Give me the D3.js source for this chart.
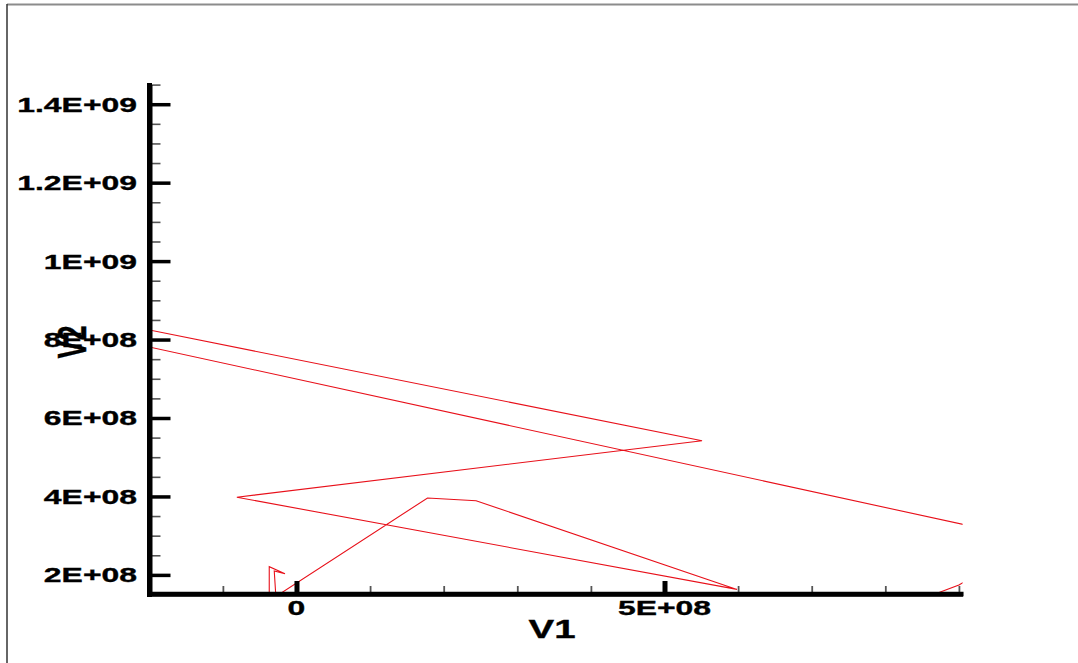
<!DOCTYPE html>
<html>
<head>
<meta charset="utf-8">
<script src="https://cdn.jsdelivr.net/npm/d3@7"></script>
<style>
    html, body { margin: 0; padding: 0; background: #fff; }
    svg { display: block; }
    text { font-family: "Liberation Sans", Arial, sans-serif; font-weight: bold; fill: #000; stroke: #000; stroke-width: 0.35px; }
</style>
</head>
<body>
<svg id="chart"></svg>
<script>
"use strict";

// series (points outside the frame get clipped)
const v1 = [8.23e8, 9.0e8, 1.0e9, -3.0e8, -3.0e8, 5.51e8, -0.81e8, 5.985e8, 2.44e8, 1.78e8, -0.28e8, -0.302e8, -0.156e8, -0.37e8, -0.37e8];
const v2 = [1.2e8, 1.74e8, 2.9e8, 8.22e8, 8.62e8, 5.42e8, 3.98e8, 1.63e8, 3.89e8, 3.96e8, 1.45e8, 2.10e8, 2.03e8, 2.21e8, 1.3e8];

const xMajor = [0, 5e8];
const xMajorLabels = ["0", "5E+08"];
const yMajor = [2e8, 4e8, 6e8, 8e8, 1e9, 1.2e9, 1.4e9];
const yMajorLabels = ["2E+08", "4E+08", "6E+08", "8E+08", "1E+09", "1.2E+09", "1.4E+09"];

const width = 1078;
const height = 663;
const stretch = 1.52;   // text in the picture is stretched sideways

const x = d3.scaleLinear().domain([-2.02e8, 9.05e8]).range([147.8, 962.6]);
const y = d3.scaleLinear().domain([1.5e8, 1.45e9]).range([594.5, 84.6]);

const svg = d3.select("#chart")
    .attr("width", width)
    .attr("height", height);

// outer frame (only top and left edges show)
svg.append("line")
    .attr("x1", 7).attr("x2", width).attr("y1", 4.5).attr("y2", 4.5)
    .attr("stroke", "#8c8c8c").attr("stroke-width", 2);
svg.append("line")
    .attr("x1", 7).attr("x2", 7).attr("y1", 4).attr("y2", height)
    .attr("stroke", "#333").attr("stroke-width", 1.5);

svg.append("clipPath").attr("id", "plotClip")
    .append("rect")
    .attr("x", x.range()[0]).attr("y", y.range()[1])
    .attr("width", x.range()[1] - x.range()[0])
    .attr("height", y.range()[0] - y.range()[1]);

const points = v1.map((d, i) => [d, v2[i]]);
const line = d3.line().x(d => x(d[0])).y(d => y(d[1]));

svg.append("path")
    .datum(points)
    .attr("clip-path", "url(#plotClip)")
    .attr("fill", "none")
    .attr("stroke", "#e8101a")
    .attr("stroke-width", 1.1)
    .attr("d", line);

// minor ticks
const yMinor = d3.range(1.5e8, 1.46e9, 5e7).filter(v => Math.round(v / 1e7) % 20 !== 0);
const xMinor = d3.range(-2e8, 9.1e8, 1e8).filter(v => v !== 0 && v !== 5e8);

svg.append("g")
    .attr("transform", "translate(149.5,0)")
    .call(d3.axisLeft(y).tickValues(yMinor).tickSize(-11).tickSizeOuter(0).tickFormat(""))
    .call(g => g.select(".domain").remove())
    .call(g => g.selectAll(".tick line").attr("stroke", "#555").attr("stroke-width", 1.6));

svg.append("g")
    .attr("transform", "translate(0,594)")
    .call(d3.axisBottom(x).tickValues(xMinor).tickSize(-8).tickSizeOuter(0).tickFormat(""))
    .call(g => g.select(".domain").remove())
    .call(g => g.selectAll(".tick line").attr("stroke", "#555").attr("stroke-width", 1.8));

// major ticks and axis lines
svg.append("g")
    .attr("transform", "translate(149.5,0)")
    .call(d3.axisLeft(y).tickValues(yMajor).tickSize(-21).tickSizeOuter(0).tickFormat(""))
    .call(g => g.select(".domain").attr("stroke", "#000").attr("stroke-width", 5))
    .call(g => g.selectAll(".tick line").attr("stroke", "#000").attr("stroke-width", 3.5));

svg.append("g")
    .attr("transform", "translate(0,594)")
    .call(d3.axisBottom(x).tickValues(xMajor).tickSize(-13).tickSizeOuter(0).tickFormat(""))
    .call(g => g.select(".domain").attr("stroke", "#000").attr("stroke-width", 4.5))
    .call(g => g.selectAll(".tick line").attr("stroke", "#000").attr("stroke-width", 5));

// extend axis lines a touch past the corner like the picture
svg.append("line")
    .attr("x1", 149.5).attr("x2", 149.5).attr("y1", 83).attr("y2", 597)
    .attr("stroke", "#000").attr("stroke-width", 5);
svg.append("line")
    .attr("x1", 147).attr("x2", 963.5).attr("y1", 594).attr("y2", 594)
    .attr("stroke", "#000").attr("stroke-width", 4.5);

// tick labels
svg.append("g").selectAll("text")
    .data(yMajor)
    .enter()
    .append("text")
    .attr("transform", d => `translate(137,${y(d) + 7.5}) scale(${stretch},1)`)
    .attr("text-anchor", "end")
    .style("font-size", "21px")
    .text((d, i) => yMajorLabels[i]);

svg.append("g").selectAll("text")
    .data(xMajor)
    .enter()
    .append("text")
    .attr("transform", d => `translate(${x(d)},615) scale(${stretch},1)`)
    .attr("text-anchor", "middle")
    .style("font-size", "21px")
    .text((d, i) => xMajorLabels[i]);

// axis titles
svg.append("text")
    .attr("transform", `translate(552,638) scale(1.48,1)`)
    .attr("text-anchor", "middle")
    .style("font-size", "26px")
    .text("V1");

svg.append("text")
    .attr("transform", `translate(86,342) scale(1.5,1) rotate(-90)`)
    .attr("text-anchor", "middle")
    .style("font-size", "27px")
    .text("V2");
</script>
</body>
</html>
